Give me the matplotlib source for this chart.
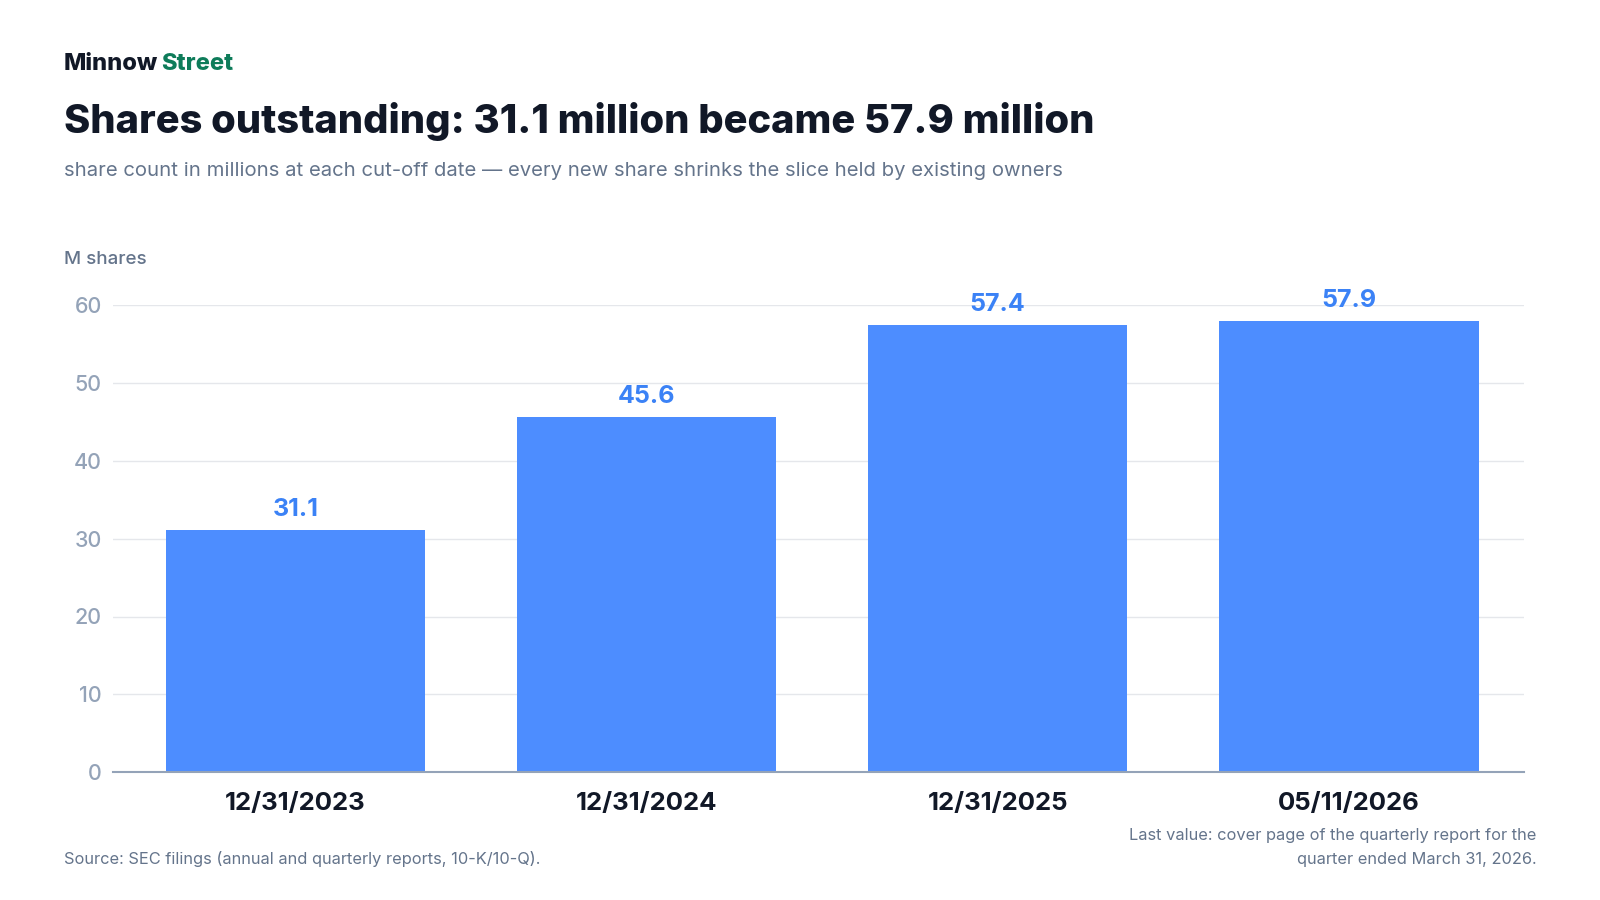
import matplotlib
matplotlib.use("Agg")
import matplotlib.pyplot as plt

plt.rcParams['font.family'] = ['Inter', 'DejaVu Sans']

dates = ['12/31/2023', '12/31/2024', '12/31/2025', '05/11/2026']
shares = [31.1, 45.6, 57.4, 57.9]
yticks = [0, 10, 20, 30, 40, 50, 60]

bar_color = '#4D8DFF'
label_color = '#3B82F6'
dark = '#111827'
muted = '#64748B'
light = '#94A3B8'

fig = plt.figure(figsize=(16, 9), dpi=100)
ax = fig.add_axes([0.0706, 0.142, 0.882, 0.519])

x = list(range(len(dates)))
ax.bar(x, shares, width=0.74, color=bar_color, zorder=3)

for xi, v in zip(x, shares):
    ax.text(xi, v + 1.2, f'{v:.1f}', ha='center', va='bottom', fontsize=18,
            fontweight='bold', color=label_color, clip_on=False)

ax.set_xlim(-0.52, 3.5)
ax.set_ylim(0, 60)
ax.set_yticks(yticks)
ax.set_yticklabels([str(t) for t in yticks], fontsize=15.5, color=light, fontweight='medium')
ax.set_xticks(x)
ax.set_xticklabels(dates, fontsize=18.5, fontweight='bold', color=dark)
ax.tick_params(axis='y', length=0, pad=8)
ax.tick_params(axis='x', length=0, pad=14)
ax.grid(axis='y', color='#E5E7EB', linewidth=1, zorder=0)
for s in ['top', 'right', 'left']:
    ax.spines[s].set_visible(False)
ax.spines['bottom'].set_color(light)
ax.spines['bottom'].set_linewidth(1.5)
ax.spines['bottom'].set_zorder(4)

# header
fig.text(0.04, 0.922, 'Minnow', fontsize=17, fontweight='heavy', color=dark)
fig.text(0.1005, 0.922, 'Street', fontsize=17, fontweight='heavy', color='#0E7C5A')
fig.text(0.04, 0.852, 'Shares outstanding: 31.1 million became 57.9 million',
         fontsize=28.7, fontweight='heavy', color=dark)
fig.text(0.04, 0.805, 'share count in millions at each cut-off date \u2014 every new share shrinks the slice held by existing owners',
         fontsize=14.6, color=muted)
fig.text(0.04, 0.707, 'M shares', fontsize=13.5, color=muted, fontweight='medium')

# footer
fig.text(0.04, 0.04, 'Source: SEC filings (annual and quarterly reports, 10-K/10-Q).',
         fontsize=11.8, color=muted)
fig.text(0.9605, 0.04, 'Last value: cover page of the quarterly report for the\nquarter ended March 31, 2026.',
         fontsize=11.8, color=muted, ha='right', linespacing=1.75)

fig.savefig('out.png', dpi=100, facecolor='white')
